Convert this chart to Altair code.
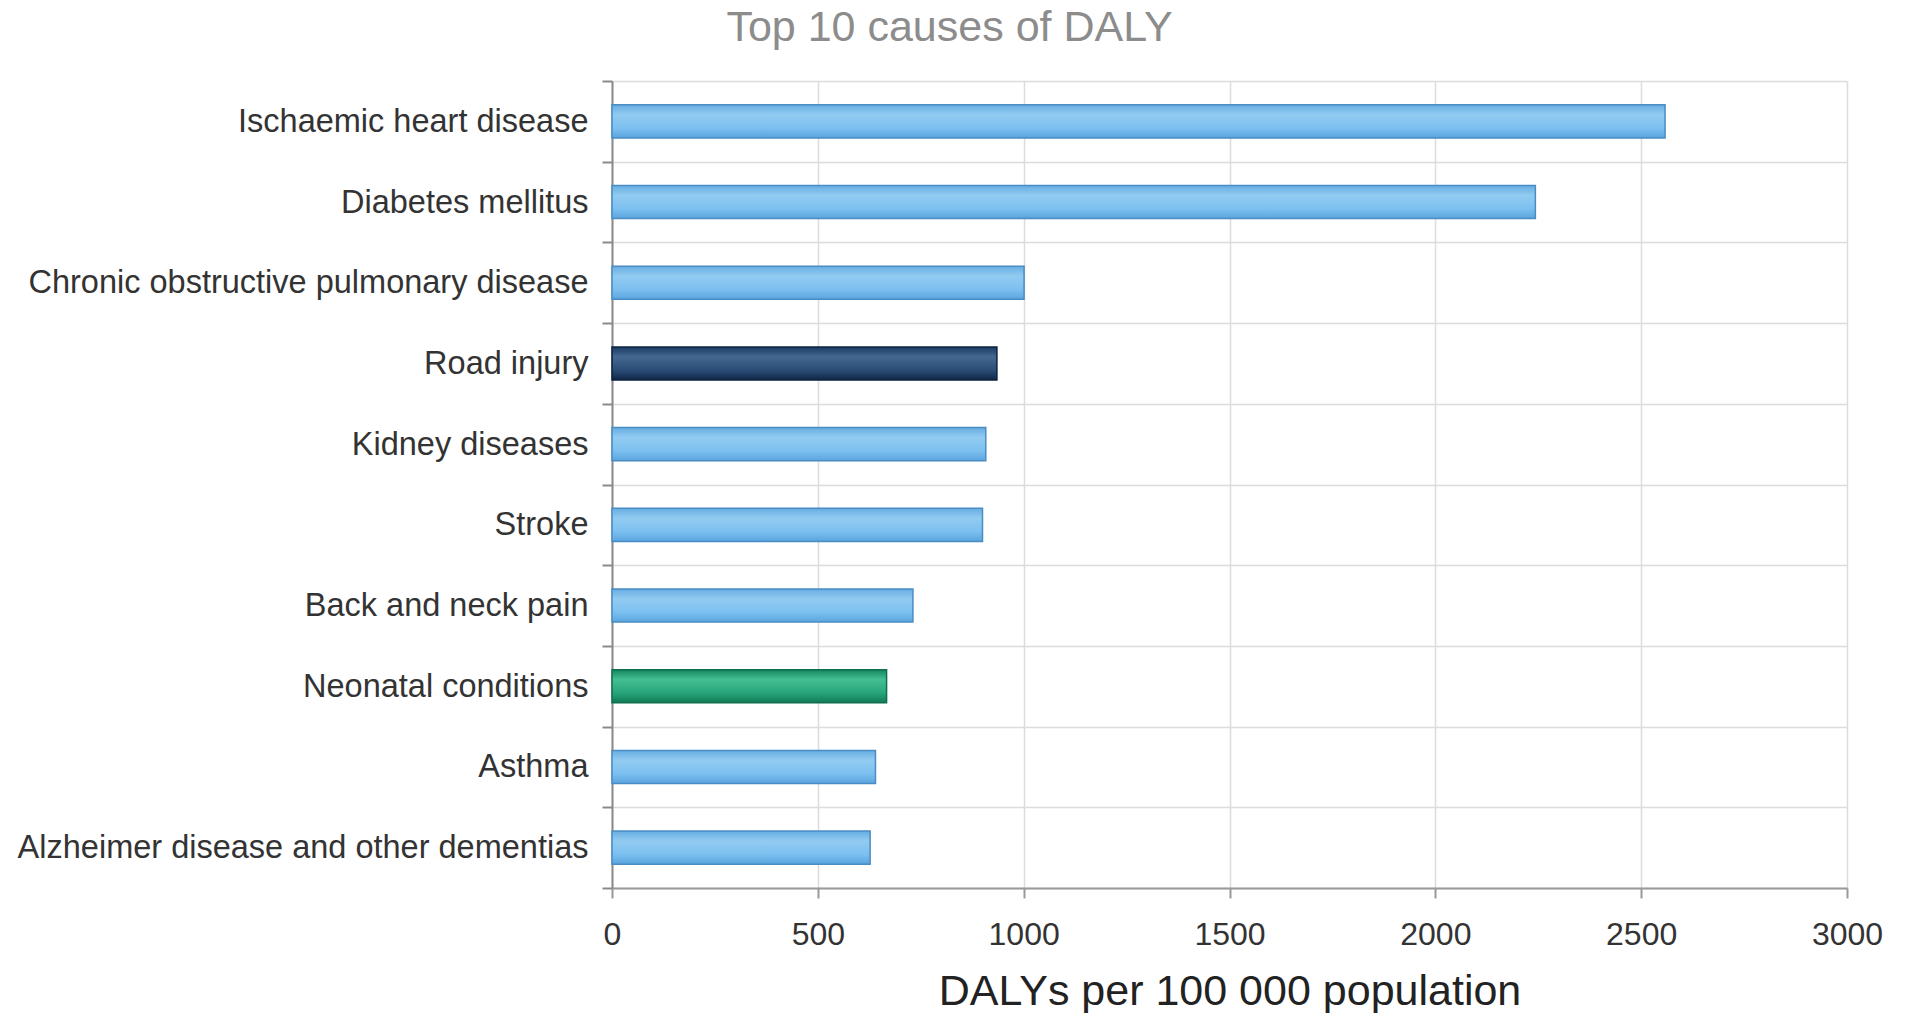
import altair as alt
import pandas as pd

causes = [
    "Ischaemic heart disease",
    "Diabetes mellitus",
    "Chronic obstructive pulmonary disease",
    "Road injury",
    "Kidney diseases",
    "Stroke",
    "Back and neck pain",
    "Neonatal conditions",
    "Asthma",
    "Alzheimer disease and other dementias",
]
values = [2558, 2243, 1001, 935, 908, 900, 731, 667, 640, 627]
groups = ["ncd", "ncd", "ncd", "injury", "ncd", "ncd", "ncd", "neonatal", "ncd", "ncd"]
x_ticks = [0, 500, 1000, 1500, 2000, 2500, 3000]

df = pd.DataFrame({"cause": causes, "value": values, "group": groups})

FONT = "Liberation Sans"

def grad(top, light, mid, bottom):
    return alt.Gradient(
        gradient="linear", x1=0, x2=0, y1=0, y2=1,
        stops=[
            alt.GradientStop(offset=0, color=top),
            alt.GradientStop(offset=0.3, color=light),
            alt.GradientStop(offset=0.7, color=mid),
            alt.GradientStop(offset=1, color=bottom),
        ],
    )

styles = {
    "ncd": (grad("#67ade2", "#92cbf1", "#7cc0f0", "#5aa4de"), "#4a8cc4"),
    "injury": (grad("#1a3a62", "#44688f", "#2a4d77", "#0f2646"), "#0d2240"),
    "neonatal": (grad("#15865f", "#44bf94", "#27a57a", "#117a55"), "#0f6e4c"),
}

base = alt.Chart(df)

y_enc = alt.Y(
    "cause:N",
    sort=causes,
    title=None,
    scale=alt.Scale(paddingInner=0, paddingOuter=0),
    axis=alt.Axis(
        tickBand="extent",
        grid=True,
        gridColor="#dcdcdc",
        gridWidth=1.5,
        domainColor="#8a8a8a",
        domainWidth=2,
        tickColor="#8a8a8a",
        tickWidth=2,
        tickSize=10,
        labelFont=FONT,
        labelFontSize=32.5,
        labelColor="#333333",
        labelPadding=14,
        labelLimit=800,
    ),
)
x_enc = alt.X(
    "value:Q",
    title="DALYs per 100 000 population",
    scale=alt.Scale(domain=[0, 3000], nice=False),
    axis=alt.Axis(
        values=x_ticks,
        format="d",
        labelFlush=False,
        grid=True,
        gridColor="#dcdcdc",
        gridWidth=1.5,
        domainColor="#999999",
        domainWidth=2,
        tickColor="#999999",
        tickWidth=2,
        tickSize=10,
        labelFont=FONT,
        labelFontSize=32,
        labelColor="#333333",
        labelPadding=21,
        titleFont=FONT,
        titleFontSize=43,
        titleFontWeight="normal",
        titleColor="#222222",
        titlePadding=20,
    ),
)

layers = []
for g, (fill, stroke) in styles.items():
    layers.append(
        base.transform_filter(alt.datum.group == g)
        .mark_bar(
            color=fill,
            stroke=stroke,
            strokeWidth=1.5,
            height=alt.RelativeBandSize(0.41),
        )
        .encode(x=x_enc, y=y_enc)
    )

chart = (
    alt.layer(*layers)
    .properties(
        width=1235,
        height=807,
        autosize=alt.AutoSizeParams(type="none"),
        padding={"left": 612, "top": 81, "right": 62, "bottom": 125},
        title=alt.TitleParams(
            "Top 10 causes of DALY",
            font=FONT,
            fontSize=43,
            fontWeight="normal",
            color="#8c8c8c",
            anchor="middle",
            dx=-280,
            offset=15,
        ),
        background="white",
    )
    .configure_view(stroke=None)
)

chart.save("out.html", embed_options={"renderer": "svg", "actions": False})
